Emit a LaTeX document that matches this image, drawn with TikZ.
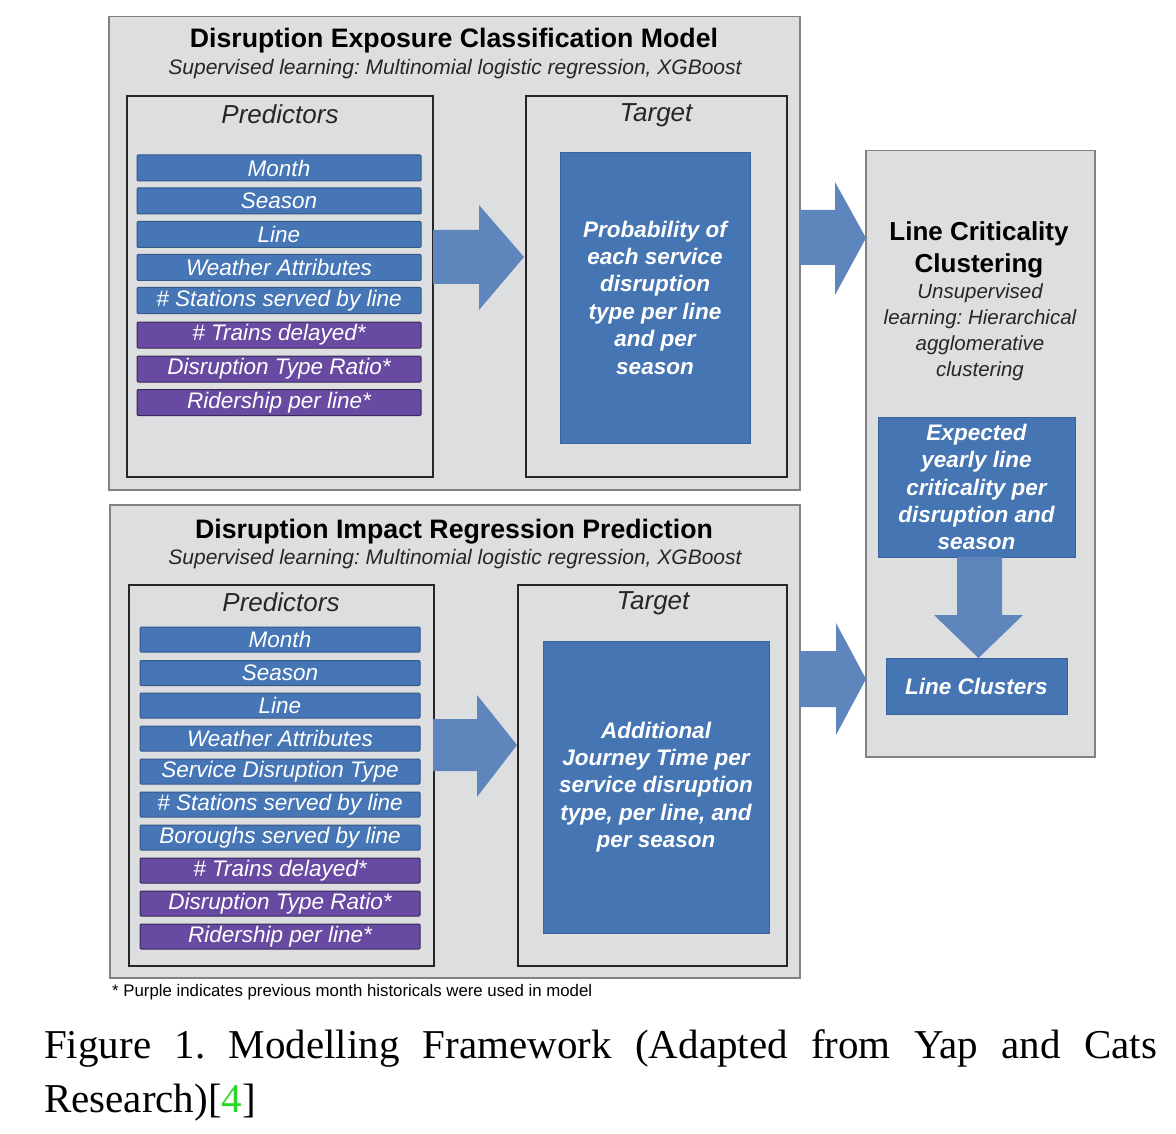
\documentclass[tikz,border=0pt]{standalone}
\usepackage{fontspec}
\setmainfont{Liberation Sans}
\newfontfamily\capfont{Liberation Serif}
\newcommand\myfs[2]{\fontsize{#1}{#2}\selectfont}
\definecolor{panelgray}{RGB}{221,222,224}
\definecolor{framegray}{RGB}{130,130,132}
\definecolor{barblue}{RGB}{70,118,182}
\definecolor{barpurple}{RGB}{104,74,162}
\definecolor{targetblue}{RGB}{70,117,180}
\definecolor{arrowblue}{RGB}{94,134,188}
\definecolor{citegreen}{RGB}{40,215,40}
\frenchspacing
\begin{document}
\frenchspacing
\begin{tikzpicture}[x=1pt,y=-1pt,
  outer/.style={draw=framegray, line width=1.5pt, fill=panelgray, anchor=north west, inner sep=0pt},
  inner/.style={draw=black!85, line width=2.2pt, anchor=north west, inner sep=0pt},
  bar/.style={draw=barblue!75!black, fill=barblue, line width=1pt, text=white, rounded corners=1pt,
    font=\myfs{22.5}{25}\itshape, inner sep=0pt},
  tbar/.style={bar, minimum width=284pt, minimum height=26pt},
  bbar/.style={bar, minimum width=280pt, minimum height=25pt},
  pur/.style={fill=barpurple, draw=barpurple!55!black},
  bigblue/.style={fill=targetblue, draw=targetblue!85!black, line width=0.8pt, text=white,
    font=\myfs{22.5}{27.4}\bfseries\itshape, align=center, inner sep=0pt},
  blockarrow/.style={fill=arrowblue, draw=none},
  titletext/.style={font=\myfs{26.7}{31}\bfseries, inner sep=0pt},
  subtext/.style={font=\myfs{21}{26}\itshape, text=black!85, inner sep=0pt, align=center},
  headtext/.style={font=\myfs{26}{31}\itshape, text=black!85, inner sep=0pt}
]
\useasboundingbox (0,0) rectangle (1176,1134);
\fill[white] (0,0) rectangle (1176,1134);

% ---------- top panel ----------
\node[outer, minimum width=691pt, minimum height=473pt] (top) at (108,16) {};
\node[titletext] (toptitle) at (454,41) {Disruption Exposure Classification Model};
\node[subtext] (topsub) at (455,69) {Supervised learning: Multinomial logistic regression, XGBoost};
\node[inner, minimum width=306pt, minimum height=381pt] (tpred) at (126,95) {};
\node[headtext] (tpredh) at (280,114) {Predictors};
\node[inner, minimum width=261pt, minimum height=381pt] (ttgt) at (525,95) {};
\node[headtext] (ttgth) at (656,115) {Target};

\node[tbar] (t1) at (279,168) {Month};
\node[tbar] (t2) at (279,201) {Season};
\node[tbar] (t3) at (279,234.5) {Line};
\node[tbar] (t4) at (279,267.5) {Weather Attributes};
\node[tbar] (t5) at (279,300.5) {\# Stations served by line};
\node[tbar,pur] (t6) at (279,335) {\# Trains delayed*};
\node[tbar,pur] (t7) at (279,369) {Disruption Type Ratio*};
\node[tbar,pur] (t8) at (279,402.5) {Ridership per line*};

\node[bigblue, minimum width=190pt, minimum height=291pt] (tblue) at (655,297.5)
  {Probability of\\each service\\disruption\\type per line\\and per\\season};

\fill[blockarrow] (433,230) -- (479,230) -- (479,205) -- (524,257) -- (479,310) -- (479,284) -- (433,284) -- cycle;

% ---------- bottom panel ----------
\node[outer, minimum width=690pt, minimum height=473pt] (bot) at (109,504) {};
\node[titletext] (bottitle) at (454,532) {Disruption Impact Regression Prediction};
\node[subtext] (botsub) at (455,559) {Supervised learning: Multinomial logistic regression, XGBoost};
\node[inner, minimum width=305pt, minimum height=381pt] (bpred) at (128,584) {};
\node[headtext] (bpredh) at (281,602) {Predictors};
\node[inner, minimum width=269pt, minimum height=381pt] (btgt) at (517,584) {};
\node[headtext] (btgth) at (653,603) {Target};

\node[bbar] (b1) at (280,639.5) {Month};
\node[bbar] (b2) at (280,673) {Season};
\node[bbar] (b3) at (280,705.5) {Line};
\node[bbar] (b4) at (280,738.5) {Weather Attributes};
\node[bbar] (b5) at (280,771.5) {Service Disruption Type};
\node[bbar] (b6) at (280,804.5) {\# Stations served by line};
\node[bbar] (b7) at (280,837.5) {Boroughs served by line};
\node[bbar,pur] (b8) at (280,870.5) {\# Trains delayed*};
\node[bbar,pur] (b9) at (280,903.5) {Disruption Type Ratio*};
\node[bbar,pur] (b10) at (280,936.5) {Ridership per line*};

\node[bigblue, minimum width=226pt, minimum height=292pt] (bblue) at (656,787)
  {Additional\\Journey Time per\\service disruption\\type, per line, and\\per season};

\fill[blockarrow] (433,719) -- (477,719) -- (477,695) -- (517,745) -- (477,797) -- (477,771) -- (433,771) -- cycle;

% ---------- right panel ----------
\node[outer, minimum width=229pt, minimum height=606pt] (right) at (865,150) {};
\node[font=\myfs{26}{32}\bfseries, align=center, inner sep=0pt] (rtitle) at (979,250)
  {Line Criticality\\Clustering};
\node[font=\myfs{20.5}{26}\itshape, text=black!85, align=center, inner sep=0pt] (rsub) at (980,332)
  {Unsupervised\\learning: Hierarchical\\agglomerative\\clustering};
\node[bigblue, minimum width=197pt, minimum height=140pt] (expected) at (976.5,487)
  {Expected\\yearly line\\criticality per\\disruption and\\season};
\node[bigblue, minimum width=181pt, minimum height=56pt] (clusters) at (976.5,686)
  {Line Clusters};

\fill[blockarrow] (957,557) -- (1002,557) -- (1002,615) -- (1023,615) -- (978.5,658) -- (934,615) -- (957,615) -- cycle;
\fill[blockarrow] (800,210) -- (835,210) -- (835,182) -- (866,238) -- (835,295) -- (835,265) -- (800,265) -- cycle;
\fill[blockarrow] (800,651) -- (836,651) -- (836,623) -- (866,679) -- (836,735) -- (836,707) -- (800,707) -- cycle;

% ---------- footnote & caption ----------
\node[anchor=base west, font=\myfs{16.8}{19}, inner sep=0pt] (foot) at (112,996)
  {* Purple indicates previous month historicals were used in model};
\node[anchor=north west, inner sep=0pt, text width=1113pt, align=justify,
  font=\capfont\myfs{41}{54}] (caption) at (44,1029)
  {Figure 1. Modelling Framework (Adapted from Yap and Cats\linebreak Research)[{\color{citegreen}4}]};
\end{tikzpicture}
\end{document}
